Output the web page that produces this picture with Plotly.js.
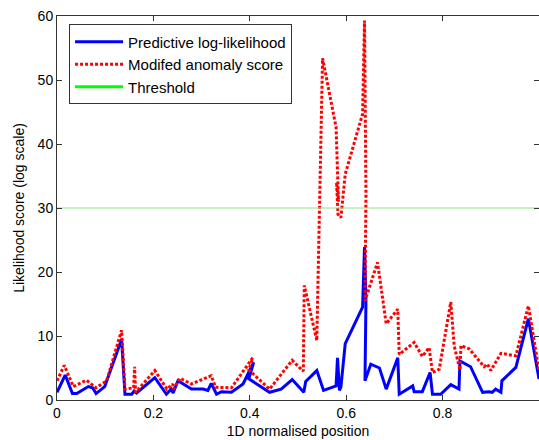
<!DOCTYPE html>
<html>
<head>
<meta charset="utf-8">
<script src="https://cdn.plot.ly/plotly-3.0.1.min.js"></script>
<style>html,body{margin:0;padding:0;background:#fff;}#chart{width:539px;height:440px;}</style>
</head>
<body>
<div id="chart"></div>
<script>
// Predictive log-likelihood (blue)
var likeX = [0, 0.017, 0.032, 0.041, 0.065, 0.074, 0.081, 0.099, 0.134, 0.141, 0.155, 0.160, 0.165, 0.203, 0.227, 0.237, 0.241, 0.251, 0.279, 0.303, 0.313, 0.320, 0.331, 0.341, 0.362, 0.386, 0.408, 0.398, 0.441, 0.465, 0.488, 0.512, 0.516, 0.539, 0.553, 0.579, 0.582, 0.586, 0.589, 0.598, 0.634, 0.638, 0.641, 0.639, 0.651, 0.669, 0.683, 0.707, 0.710, 0.738, 0.741, 0.758, 0.774, 0.779, 0.796, 0.817, 0.834, 0.836, 0.858, 0.883, 0.896, 0.903, 0.910, 0.921, 0.923, 0.952, 0.978, 1.0];
var likeY = [1.2, 3.9, 1.0, 1.0, 2.1, 1.9, 1.0, 2.1, 9.5, 0.9, 0.9, 1.4, 1.1, 3.5, 0.9, 1.7, 1.1, 3.0, 1.7, 1.7, 1.5, 2.6, 0.9, 1.3, 1.2, 2.5, 5.9, 3.3, 1.2, 1.7, 3.2, 1.2, 2.9, 4.6, 1.5, 2.2, 6.6, 1.5, 2.0, 8.8, 14.5, 23.9, 15.5, 3.0, 5.6, 5.0, 1.7, 6.6, 0.9, 2.2, 1.3, 1.3, 4.3, 0.9, 0.9, 2.4, 1.7, 6.1, 5.2, 1.2, 1.3, 1.2, 1.7, 1.2, 3.0, 5.1, 12.7, 3.3];

// Modified anomaly score (red dotted)
var anomX = [0, 0.015, 0.034, 0.061, 0.081, 0.103, 0.134, 0.141, 0.159, 0.161, 0.163, 0.203, 0.228, 0.240, 0.242, 0.255, 0.279, 0.320, 0.329, 0.362, 0.406, 0.398, 0.441, 0.488, 0.511, 0.513, 0.539, 0.551, 0.579, 0.581, 0.584, 0.580, 0.583, 0.589, 0.598, 0.634, 0.638, 0.641, 0.639, 0.665, 0.683, 0.707, 0.710, 0.741, 0.758, 0.772, 0.779, 0.793, 0.817, 0.824, 0.836, 0.838, 0.855, 0.886, 0.893, 0.900, 0.921, 0.952, 0.978, 1.0];
var anomY = [3.0, 5.4, 2.1, 3.1, 1.9, 3.0, 10.9, 1.7, 1.9, 5.2, 1.2, 4.6, 1.7, 2.5, 1.7, 3.4, 2.5, 3.8, 2.0, 1.9, 6.6, 4.7, 1.7, 6.2, 4.5, 17.9, 9.3, 53.4, 42.6, 38.5, 31.0, 34.0, 29.0, 28.5, 35.3, 44.7, 59.3, 32.2, 15.5, 21.5, 11.9, 14.2, 7.1, 9.0, 6.8, 8.2, 4.3, 4.8, 15.3, 8.5, 4.7, 8.5, 8.0, 5.2, 5.6, 4.6, 7.3, 6.9, 14.7, 4.6];

// Threshold
var threshX = [0, 1];
var threshY = [30, 30];

var seriesNames = ['Predictive log-likelihood', 'Modifed anomaly score', 'Threshold'];
var xTicks = [0, 0.2, 0.4, 0.6, 0.8, 1];
var xTickText = ['0', '0.2', '0.4', '0.6', '0.8', '1'];
var yTicks = [0, 10, 20, 30, 40, 50, 60];

var FONT = 'Liberation Sans, Arial, sans-serif';

var traces = [
  {x: likeX, y: likeY, name: seriesNames[0], mode: 'lines', type: 'scatter',
   line: {color: '#0000ff', width: 3}},
  {x: anomX, y: anomY, name: seriesNames[1], mode: 'lines', type: 'scatter',
   line: {color: '#ff0000', width: 3, dash: '3px,2px'}},
  {x: threshX, y: threshY, name: seriesNames[2], mode: 'lines', type: 'scatter',
   showlegend: false, line: {color: 'rgb(140,228,140)', width: 1}},
  // legend swatch for the threshold (bright, thicker as in the key)
  {x: [null], y: [null], name: seriesNames[2], mode: 'lines', type: 'scatter',
   line: {color: '#00ff00', width: 3}}
];

var axisCommon = {
  showgrid: false, zeroline: false, showline: true, mirror: 'ticks',
  linecolor: '#333', linewidth: 1, ticks: 'inside', ticklen: 5, tickcolor: '#333',
  tickfont: {family: FONT, size: 14, color: '#000'}
};

var layout = {
  width: 539, height: 440,
  margin: {l: 57, r: 0, t: 16, b: 40},
  paper_bgcolor: '#fff', plot_bgcolor: '#fff',
  font: {family: FONT, size: 14, color: '#000'},
  showlegend: true,
  legend: {
    x: 0.025, y: 0.978, xanchor: 'left', yanchor: 'top',
    bgcolor: '#fff', bordercolor: '#333', borderwidth: 1,
    font: {family: FONT, size: 15, color: '#000'},
    itemwidth: 48, tracegroupgap: 0
  },
  xaxis: Object.assign({}, axisCommon, {
    range: [0, 1], tickvals: xTicks, ticktext: xTickText,
    title: {text: '1D normalised position', standoff: 6,
            font: {family: FONT, size: 14, color: '#000'}}
  }),
  yaxis: Object.assign({}, axisCommon, {
    range: [0, 60], tickvals: yTicks,
    title: {text: 'Likelihood score (log scale)', standoff: 9,
            font: {family: FONT, size: 14, color: '#000'}}
  })
};

Plotly.newPlot('chart', traces, layout, {displayModeBar: false, staticPlot: true});
</script>
</body>
</html>
